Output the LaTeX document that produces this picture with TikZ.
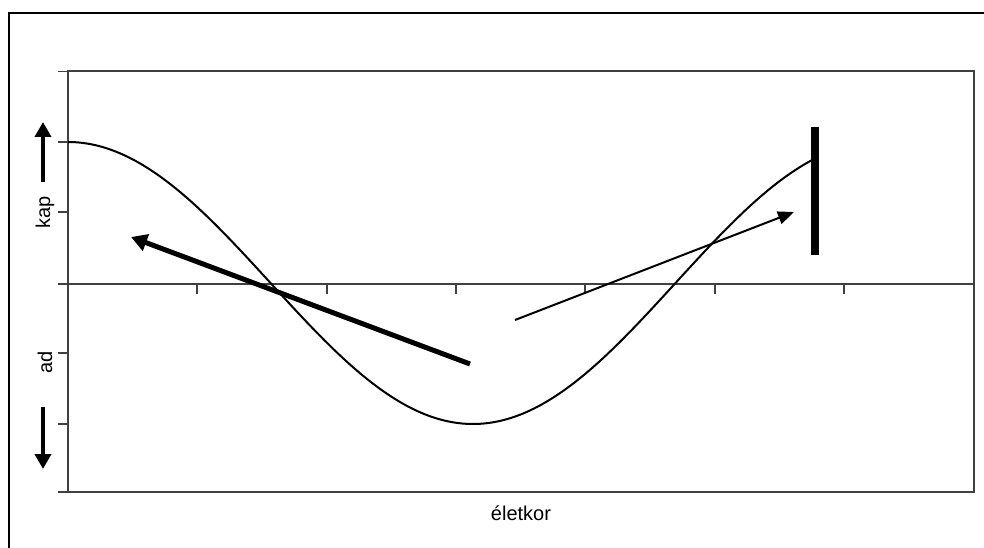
\documentclass[tikz,border=0pt]{standalone}
\usepackage{fontspec}
\setmainfont{Liberation Sans}
\usetikzlibrary{arrows.meta, positioning}

\begin{document}
\begin{tikzpicture}[x=1pt, y=-1pt, font=\fontsize{20}{24}\selectfont,
    frame/.style={draw=black!75, line width=2pt},
    tick/.style={draw=black!75, line width=1.6pt},
    curve/.style={line width=2pt},
    bigarrow/.style={line width=5pt, -{Triangle[length=16pt, width=17pt]}},
    thinarrow/.style={line width=2pt, -{Triangle[length=16pt, width=13pt]}},
    sidearrow/.style={line width=4pt, -{Triangle[length=15pt, width=16pt]}},
    lbl/.style={inner sep=0pt}
]
    \useasboundingbox (0,0) rectangle (984,548);
    % outer frame
    \draw[line width=2pt] (8.5,548) |- (984,13);

    % plot area and axis
    \coordinate (tl) at (68,71.5);
    \coordinate (br) at (974,492);
    \draw[frame] (tl) rectangle (br);
    \coordinate (o) at (68,284);
    \coordinate (e) at (974,284);
    \draw[frame] (o) -- (e);
    \foreach \y in {71.5,142,212,284,353,424,492}
        \draw[tick] (58,\y) -- (68,\y);
    \foreach \x in {197,327,456,585,715,844}
        \draw[tick] (\x,284) -- (\x,294);

    % curve
    \draw[curve] plot[domain=68:815, samples=200, smooth]
        (\x, {283-141*cos(0.44444*(\x-68))});

    % bar
    \coordinate (bt) at (815,127);
    \coordinate (bb) at (815,255);
    \draw[line width=8pt] (bt) -- (bb);

    % arrows in the plot
    \coordinate (a1) at (470,364);
    \coordinate (a2) at (131,237);
    \draw[bigarrow] (a1) -- (a2);
    \coordinate (b1) at (515,320);
    \coordinate (b2) at (794,212);
    \draw[thinarrow] (b1) -- (b2);

    % side labels
    \coordinate (u1) at (43,182);
    \coordinate (u2) at (43,122);
    \draw[sidearrow] (u1) -- (u2);
    \coordinate (d1) at (43,407);
    \coordinate (d2) at (43,469);
    \draw[sidearrow] (d1) -- (d2);
    \node[lbl, rotate=90] (kap) at (45,212) {kap};
    \node[lbl, rotate=90] (ad) at (45,362) {ad};
    \node[lbl] (kor) at (521,513) {életkor};
\end{tikzpicture}
\end{document}
